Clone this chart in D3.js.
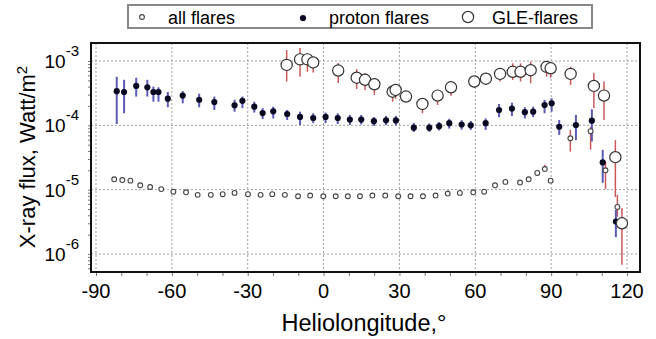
<!DOCTYPE html>
<html lang="en">
<head>
  <meta charset="UTF-8">
  <title>X-ray flux vs heliolongitude</title>
  <script src="https://cdn.jsdelivr.net/npm/d3@7"></script>
  <style>
    body { margin: 0; background: #fff; }
    text { font-family: Arial, "Liberation Sans", sans-serif; fill: #000; }
  </style>
</head>
<body>
  <script>
    // proton flares (filled dots, blue bars)
    const protonLon = [-81.8,-78.9,-74.1,-69.7,-67.3,-65.3,-61.6,-55.7,-49.2,-43.2,-35.2,-32.1,-27.4,-24.1,-19.9,-14.4,-9.3,-4.1,0.8,5.6,10.4,14.9,19.9,24.7,28.6,35.7,41.8,45.7,49.7,54.6,58.2,64.1,69.4,74.5,79.6,82.9,87.4,90.2,93.2,99.8,106.1,110.4,115.6];
    const protonVal = [3.4e-4,3.3e-4,4.1e-4,3.9e-4,3.3e-4,3.3e-4,2.6e-4,2.9e-4,2.5e-4,2.3e-4,2.05e-4,2.4e-4,1.95e-4,1.55e-4,1.65e-4,1.5e-4,1.35e-4,1.3e-4,1.35e-4,1.3e-4,1.23e-4,1.23e-4,1.16e-4,1.2e-4,1.19e-4,9.2e-5,9.2e-5,9.7e-5,1.08e-4,1.03e-4,1.0e-4,1.08e-4,1.73e-4,1.82e-4,1.6e-4,1.63e-4,2.07e-4,2.2e-4,9.5e-5,1.01e-4,1.18e-4,2.65e-5,3.2e-6];
    const protonHi = [5.7e-4,5.1e-4,5.5e-4,5.1e-4,4.0e-4,3.9e-4,3.3e-4,3.4e-4,3.1e-4,2.8e-4,2.5e-4,2.8e-4,2.33e-4,1.85e-4,1.95e-4,1.73e-4,1.63e-4,1.54e-4,1.58e-4,1.54e-4,1.45e-4,1.45e-4,1.35e-4,1.4e-4,1.4e-4,1.09e-4,1.07e-4,1.13e-4,1.26e-4,1.2e-4,1.17e-4,1.28e-4,2.15e-4,2.25e-4,1.91e-4,1.95e-4,2.48e-4,2.64e-4,1.21e-4,1.45e-4,1.78e-4,4.15e-5,4.85e-6];
    const protonLo = [1.05e-4,1.54e-4,2.8e-4,2.8e-4,2.33e-4,2.33e-4,1.91e-4,2.2e-4,1.91e-4,1.73e-4,1.63e-4,1.85e-4,1.58e-4,1.25e-4,1.28e-4,1.21e-4,1.01e-4,1.08e-4,1.08e-4,1.05e-4,1.01e-4,1.03e-4,9.8e-5,1.01e-4,1.0e-4,7.9e-5,7.9e-5,8.3e-5,8.9e-5,8.6e-5,8.5e-5,8.5e-5,1.34e-4,1.4e-4,1.28e-4,1.34e-4,1.54e-4,1.63e-4,7.1e-5,5.9e-5,5.6e-5,1.28e-5,1.83e-6];

    // all flares (small open circles, a few red bars)
    const allLon = [-82.8,-79.6,-76.4,-72.5,-68.6,-64.2,-59.4,-54.4,-49.8,-44.6,-39.9,-35.2,-29.9,-24.9,-20.3,-15.3,-10.1,-5.3,-0.1,4.8,9.6,14.4,19.3,24.4,29.5,34.4,39.3,44.3,49.1,53.9,59.2,63.5,67.8,71.9,77.7,81.1,84.5,87.5,89.8,97.6,105.6,111.5,116.2];
    const allVal = [1.45e-5,1.41e-5,1.38e-5,1.17e-5,1.1e-5,1.02e-5,9.3e-6,9.1e-6,8.3e-6,8.3e-6,8.5e-6,8.9e-6,8.5e-6,8.3e-6,8.5e-6,8.3e-6,7.9e-6,8.1e-6,7.9e-6,7.9e-6,7.9e-6,7.9e-6,8.1e-6,8.1e-6,7.9e-6,7.9e-6,7.9e-6,8.1e-6,8.7e-6,8.9e-6,9.1e-6,9.3e-6,1.17e-5,1.32e-5,1.29e-5,1.45e-5,1.82e-5,2.09e-5,1.38e-5,6.3e-5,8.1e-5,2.0e-5,5.4e-6];
    const allHi = [null,null,null,null,null,null,null,null,null,null,null,null,null,null,null,null,null,null,null,null,null,null,null,null,null,null,null,null,null,null,null,null,null,null,null,null,null,2.43e-5,null,8.5e-5,9.5e-5,2.73e-5,8.3e-6];
    const allLo = [null,null,null,null,null,null,null,null,null,null,null,null,null,null,null,null,null,null,null,null,null,null,null,null,null,null,null,null,null,null,null,null,null,null,null,null,null,2.09e-5,null,3.9e-5,4.2e-5,1.02e-5,3.8e-6];

    // GLE flares (large open circles, red bars)
    const gleLon = [-14.6,-9.3,-6.4,-4.1,5.8,13.1,16.4,20.1,27.3,28.5,32.6,39.1,45.1,50.4,59.6,64.2,69.8,74.8,77.9,81.9,88.2,89.8,97.7,106.9,110.9,115.4,118];
    const gleVal = [8.7e-4,1.06e-3,1.06e-3,9.5e-4,7.1e-4,5.5e-4,5.1e-4,4.35e-4,3.33e-4,3.55e-4,2.8e-4,2.15e-4,2.9e-4,3.9e-4,4.8e-4,5.3e-4,6.3e-4,6.8e-4,6.8e-4,7.2e-4,8.1e-4,7.7e-4,6.3e-4,4.1e-4,2.9e-4,3.2e-5,3.0e-6];
    const gleHi = [1.48e-3,1.59e-3,1.32e-3,1.17e-3,9.3e-4,7.5e-4,6.5e-4,5.45e-4,4.23e-4,4.4e-4,3.3e-4,2.64e-4,3.55e-4,4.8e-4,5.85e-4,6.45e-4,7.7e-4,9.2e-4,9.2e-4,9.75e-4,9.75e-4,9.2e-4,8.15e-4,6.5e-4,4.8e-4,5.9e-5,5.2e-6];
    const gleLo = [4.8e-4,5.7e-4,6.8e-4,6.6e-4,4.55e-4,3.67e-4,3.55e-4,2.96e-4,2.33e-4,2.6e-4,2.3e-4,1.54e-4,2.07e-4,2.89e-4,3.8e-4,4.24e-4,4.8e-4,5.07e-4,4.8e-4,4.5e-4,5.7e-4,5.5e-4,4.24e-4,1.86e-4,1.21e-4,7.7e-6,6.8e-7];

    const xTicks = [-90, -60, -30, 0, 30, 60, 90, 120];
    const yTicks = [1e-6, 1e-5, 1e-4, 1e-3];
    const yTickExp = ["-6", "-5", "-4", "-3"];
    const legendLabels = ["all flares", "proton flares", "GLE-flares"];

    const w = 656, h = 339;
    const frame = {left: 91, right: 640, top: 43, bottom: 272};

    const x = d3.scaleLinear().domain([-90, 120]).range([96, 627]);
    const y = d3.scaleLog().domain([1e-6, 1e-3]).range([254, 61]);

    const svg = d3.select("body").append("svg")
      .attr("width", w)
      .attr("height", h);

    // grid
    svg.append("g").selectAll("line")
      .data(xTicks)
      .enter().append("line")
      .attr("x1", d => x(d)).attr("x2", d => x(d))
      .attr("y1", frame.top).attr("y2", frame.bottom)
      .attr("stroke", "#a0a0a0").attr("stroke-dasharray", "2,2");
    svg.append("g").selectAll("line")
      .data(yTicks)
      .enter().append("line")
      .attr("x1", frame.left).attr("x2", frame.right)
      .attr("y1", d => y(d)).attr("y2", d => y(d))
      .attr("stroke", "#a0a0a0").attr("stroke-dasharray", "2,2");

    // axes (ticks only, labels drawn below)
    const xAxis = d3.axisBottom(x).tickValues(d3.range(-90, 121, 10)).tickSize(4).tickFormat("");
    const gx = svg.append("g")
      .attr("transform", "translate(0," + frame.bottom + ")")
      .call(xAxis);
    gx.select(".domain").remove();
    gx.selectAll(".tick line").attr("stroke", "#777");

    const minorY = [];
    for (let e = -7; e <= -3; e++) {
      for (let m = 1; m < 10; m++) {
        const v = m * Math.pow(10, e);
        if (y(v) <= frame.bottom && y(v) >= frame.top) minorY.push(v);
      }
    }
    const yAxis = d3.axisLeft(y).tickValues(minorY).tickSize(3).tickFormat("");
    const gy = svg.append("g")
      .attr("transform", "translate(" + frame.left + ",0)")
      .call(yAxis);
    gy.select(".domain").remove();
    gy.selectAll(".tick line").attr("stroke", "#777");

    svg.append("g").selectAll("text")
      .data(xTicks)
      .enter().append("text")
      .attr("x", d => x(d))
      .attr("y", 298)
      .attr("text-anchor", "middle")
      .attr("font-size", 20)
      .text(d => d);

    const yl = svg.append("g").selectAll("text")
      .data(yTicks)
      .enter().append("text")
      .attr("x", 79)
      .attr("y", d => y(d) + 7)
      .attr("text-anchor", "end")
      .attr("font-size", 19);
    yl.append("tspan").text("10");
    yl.append("tspan").attr("dy", -12).attr("font-size", 15).text((d, i) => yTickExp[i]);

    // error bars
    function bars(lon, lo, hi, color, width) {
      svg.append("g").selectAll("line")
        .data(lon.map((d, i) => ({lon: d, lo: lo[i], hi: hi[i]})).filter(d => d.lo !== null))
        .enter().append("line")
        .attr("x1", d => x(d.lon)).attr("x2", d => x(d.lon))
        .attr("y1", d => y(d.hi)).attr("y2", d => y(d.lo))
        .attr("stroke", color).attr("stroke-width", width);
    }
    bars(allLon, allLo, allHi, "#c8585a", 1.5);
    bars(protonLon, protonLo, protonHi, "#5a5ab8", 2);
    bars(gleLon, gleLo, gleHi, "#c8585a", 1.5);

    // markers
    svg.append("g").selectAll("circle")
      .data(allLon.map((d, i) => [d, allVal[i]]))
      .enter().append("circle")
      .attr("cx", d => x(d[0])).attr("cy", d => y(d[1]))
      .attr("r", 2.4)
      .attr("fill", "#fff").attr("stroke", "#444").attr("stroke-width", 1.1);
    svg.append("g").selectAll("circle")
      .data(protonLon.map((d, i) => [d, protonVal[i]]))
      .enter().append("circle")
      .attr("cx", d => x(d[0])).attr("cy", d => y(d[1]))
      .attr("r", 3.1)
      .attr("fill", "#0a0a22");
    svg.append("g").selectAll("circle")
      .data(gleLon.map((d, i) => [d, gleVal[i]]))
      .enter().append("circle")
      .attr("cx", d => x(d[0])).attr("cy", d => y(d[1]))
      .attr("r", 5.6)
      .attr("fill", "#fff").attr("stroke", "#333").attr("stroke-width", 1.2);

    // frame
    svg.append("rect")
      .attr("x", frame.left).attr("y", frame.top)
      .attr("width", frame.right - frame.left).attr("height", frame.bottom - frame.top)
      .attr("fill", "none").attr("stroke", "#111").attr("stroke-width", 2);

    // axis titles
    svg.append("text")
      .attr("x", 364).attr("y", 331)
      .attr("text-anchor", "middle")
      .attr("font-size", 23.5)
      .text("Heliolongitude,°");

    const yt = svg.append("text")
      .attr("transform", "translate(35,157) rotate(-90)")
      .attr("text-anchor", "middle")
      .attr("font-size", 22);
    yt.append("tspan").text("X-ray flux, Watt/m");
    yt.append("tspan").attr("dy", -8).attr("font-size", 15).text("2");

    // legend
    const lg = svg.append("g");
    lg.append("rect")
      .attr("x", 128).attr("y", 5).attr("width", 464).attr("height", 23)
      .attr("fill", "#fff").attr("stroke", "#888").attr("stroke-width", 2);
    const lgX = [142, 303, 468];
    lg.append("circle").attr("cx", lgX[0]).attr("cy", 17).attr("r", 2.4)
      .attr("fill", "#fff").attr("stroke", "#444").attr("stroke-width", 1.1);
    lg.append("circle").attr("cx", lgX[1]).attr("cy", 18).attr("r", 3.1).attr("fill", "#0a0a22");
    lg.append("circle").attr("cx", lgX[2]).attr("cy", 17).attr("r", 5.6)
      .attr("fill", "#fff").attr("stroke", "#333").attr("stroke-width", 1.2);
    lg.selectAll("text.lab")
      .data(legendLabels)
      .enter().append("text")
      .attr("class", "lab")
      .attr("x", (d, i) => lgX[i] + (i === 2 ? 24 : 26))
      .attr("y", 24)
      .attr("font-size", 18)
      .text(d => d);
  </script>
</body>
</html>
